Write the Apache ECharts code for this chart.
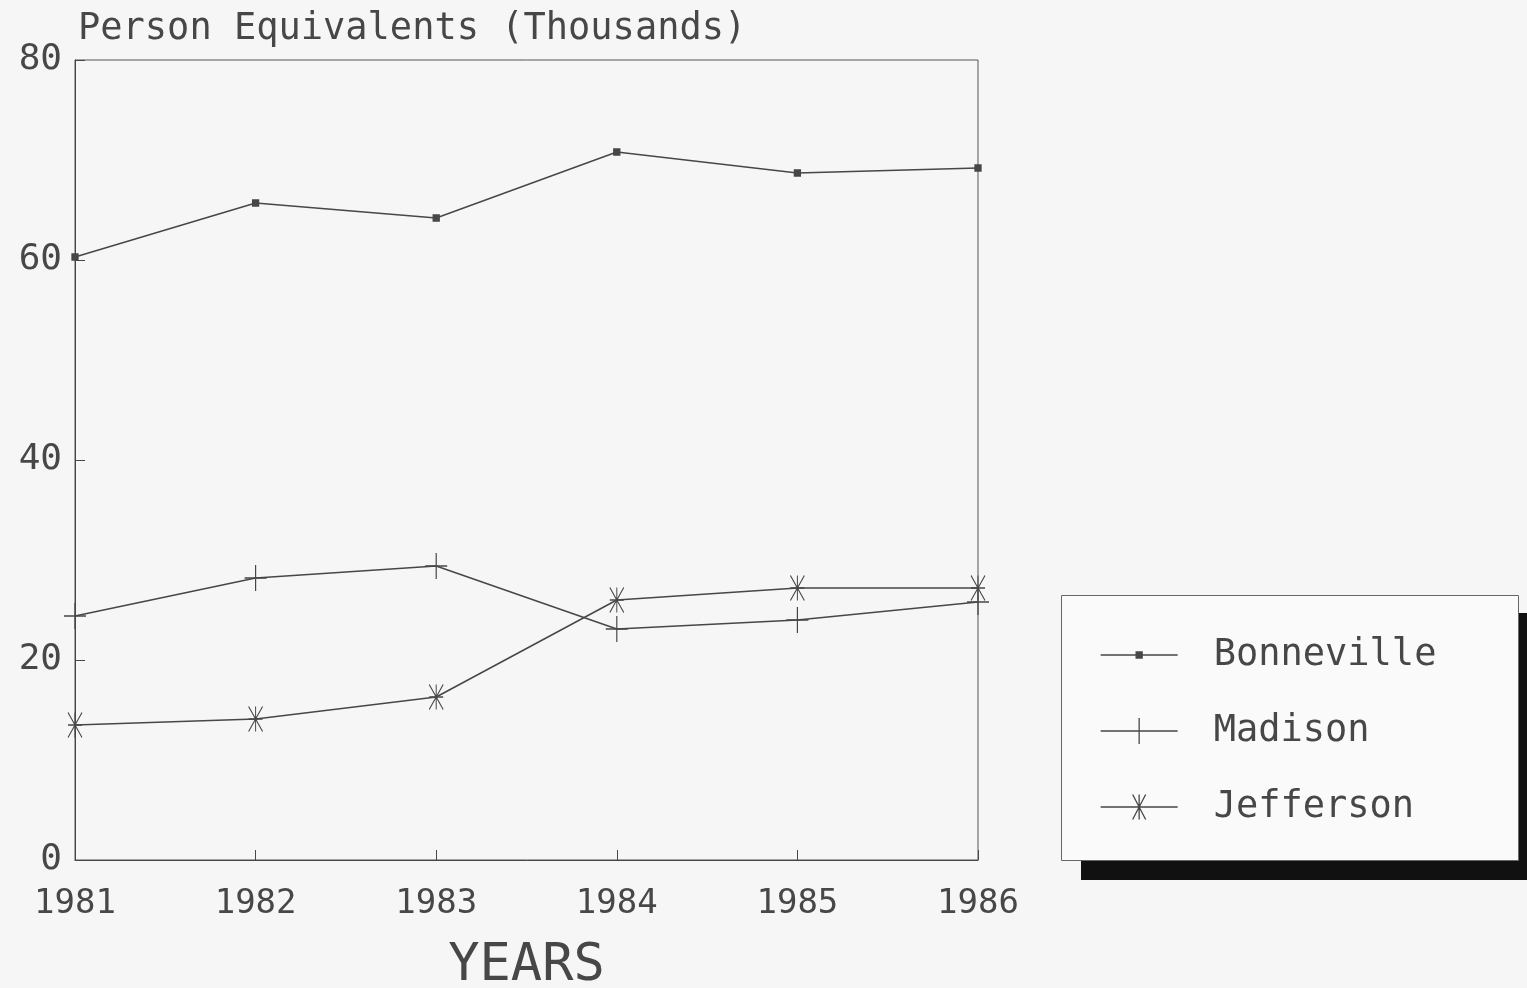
<!DOCTYPE html>
<html><head><meta charset="utf-8">
<script src="https://cdn.jsdelivr.net/npm/echarts@6/dist/echarts.min.js"></script>
<style>html,body{margin:0;padding:0;background:#f6f6f6;}#c{width:1527px;height:988px;}</style>
</head><body><div id="c"></div>
<script>
var years = ['1981','1982','1983','1984','1985','1986'];
var bonneville = [60.3, 65.7, 64.2, 70.8, 68.7, 69.2];
var madison = [24.4, 28.2, 29.4, 23.1, 24.0, 25.8];
var jefferson = [13.5, 14.1, 16.3, 26.0, 27.2, 27.2];
var yTicks = [0, 20, 40, 60, 80];
var seriesNames = ['Bonneville', 'Madison', 'Jefferson'];

var FONT = '"DejaVu Sans Mono", monospace';
var INK = '#474747';
var plusPath = 'path://M5,0 L5,10 M0,5 L10,5';
var starPath = 'path://M0,-12 L0,12 M-6.5,-12 L6.5,12 M6.5,-12 L-6.5,12 M-6.5,0 L6.5,0';
var legendIcons = {
  Bonneville: 'path://M0,3 L77,3 M35.5,0 L41.5,0 L41.5,6 L35.5,6 Z',
  Madison: 'path://M0,13 L77,13 M38.5,0 L38.5,26',
  Jefferson: 'path://M0,12.5 L77,12.5 M38.5,0 L38.5,25 M32,0 L45,25 M45,0 L32,25'
};

var chart = echarts.init(document.getElementById('c'));
function mk(name, data, symbol, size) {
  return {
    name: name, type: 'line', data: data, symbol: symbol, symbolSize: size,
    showAllSymbol: true,
    lineStyle: {color: INK, width: 1.5},
    itemStyle: {color: INK, borderColor: INK, borderWidth: 1.3},
    emphasis: {disabled: true}, animation: false
  };
}
chart.setOption({
  backgroundColor: '#f6f6f6',
  animation: false,
  textStyle: {fontFamily: FONT, color: INK},
  title: {
    text: 'Person Equivalents (Thousands)', left: 73, top: 6,
    textStyle: {fontFamily: FONT, fontWeight: 'normal', fontSize: 37, color: INK}
  },
  graphic: [
    {type: 'rect', z: -1, shape: {x: 1081, y: 613, width: 470, height: 267}, style: {fill: '#111'}},
    {type: 'rect', z: 0, shape: {x: 1061.5, y: 595.5, width: 457, height: 265}, style: {fill: '#fafafa', stroke: '#666', lineWidth: 1}}
  ],
  grid: {left: 75, right: 549, top: 60, bottom: 128, show: true, borderColor: '#555', borderWidth: 1,
    backgroundColor: 'transparent', containLabel: false, outerBoundsMode: 'none'},
  xAxis: {
    type: 'category', data: years, boundaryGap: false,
    axisLine: {lineStyle: {color: INK, width: 1}},
    axisTick: {inside: true, length: 10, lineStyle: {color: INK}},
    axisLabel: {fontFamily: FONT, fontSize: 34, color: INK, margin: 27},
    name: 'YEARS', nameLocation: 'middle', nameGap: 80,
    nameTextStyle: {fontFamily: FONT, fontSize: 52, color: INK},
    splitLine: {show: false}
  },
  yAxis: {
    type: 'value', min: 0, max: 80, interval: 20,
    axisLine: {show: true, lineStyle: {color: INK, width: 1}},
    axisTick: {show: true, inside: true, length: 10, lineStyle: {color: INK}},
    axisLabel: {fontFamily: FONT, fontSize: 36, color: INK, margin: 13,
      formatter: function (v) { return yTicks.indexOf(v) >= 0 ? String(v) : ''; }},
    splitLine: {show: false}
  },
  legend: {
    orient: 'vertical', left: 1100, top: 635,
    padding: 0, itemGap: 36,
    itemWidth: 77, itemHeight: 26,
    itemStyle: {color: INK, borderColor: INK, borderWidth: 1.3},
    textStyle: {fontFamily: FONT, fontSize: 37, color: INK, lineHeight: 40, padding: [0, 0, 0, 31]},
    data: seriesNames.map(function (n) { return {name: n, icon: legendIcons[n]}; })
  },
  series: [
    mk(seriesNames[0], bonneville, 'rect', 6),
    mk(seriesNames[1], madison, plusPath, [22, 26]),
    mk(seriesNames[2], jefferson, starPath, [14, 25])
  ]
});
</script></body></html>
